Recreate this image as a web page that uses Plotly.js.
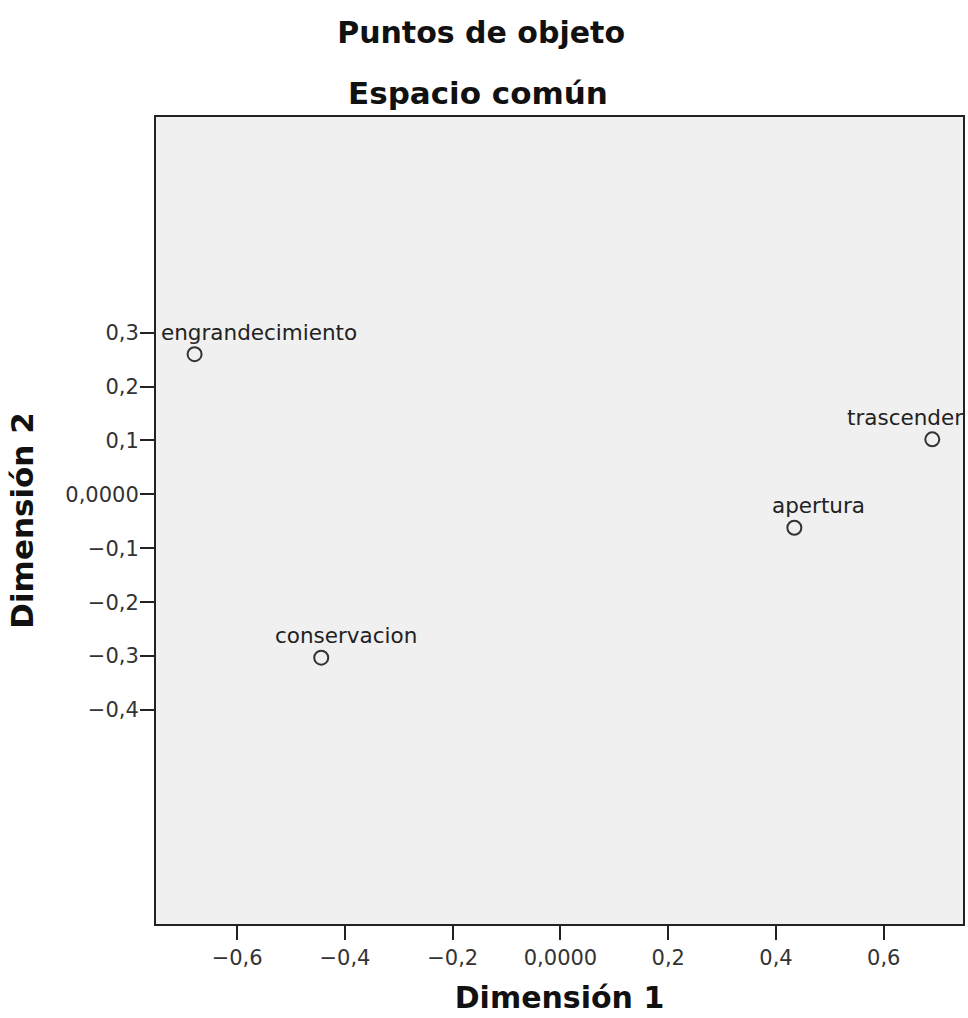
<!DOCTYPE html>
<html>
<head>
<meta charset="utf-8">
<script src="https://cdn.plot.ly/plotly-3.0.1.min.js"></script>
<style>html,body{margin:0;padding:0;background:#fff;}#chart{width:968px;height:1018px;}</style>
</head>
<body>
<div id="chart"></div>
<script>
// Data
const labels = ['engrandecimiento', 'trascender', 'apertura', 'conservacion'];
const dim1 = [-0.679, 0.690, 0.434, -0.444];
const dim2 = [0.260, 0.102, -0.062, -0.303];

const xTickVals = [-0.6, -0.4, -0.2, 0, 0.2, 0.4, 0.6];
const xTickText = ['\u22120,6', '\u22120,4', '\u22120,2', '0,0000', '0,2', '0,4', '0,6'];
const yTickVals = [0.3, 0.2, 0.1, 0, -0.1, -0.2, -0.3, -0.4];
const yTickText = ['0,3', '0,2', '0,1', '0,0000', '\u22120,1', '\u22120,2', '\u22120,3', '\u22120,4'];

// Label placement offsets (style)
const labelXShift = [64, -27, 24, 25];
const labelYShift = 22;

const font = 'DejaVu Sans, Verdana, sans-serif';

const trace = {
  type: 'scatter',
  mode: 'markers',
  x: dim1,
  y: dim2,
  text: labels,
  hoverinfo: 'text',
  marker: {
    symbol: 'circle-open',
    size: 14,
    color: '#333333',
    line: {width: 2, color: '#333333'}
  },
  showlegend: false
};

const annotations = labels.map((t, i) => ({
  x: dim1[i], y: dim2[i], xref: 'x', yref: 'y',
  text: t, showarrow: false,
  xanchor: 'center', yanchor: 'middle',
  xshift: labelXShift[i], yshift: labelYShift,
  font: {family: font, size: 21.5, color: '#222222'}
}));

annotations.push({
  text: 'Espacio común', xref: 'paper', yref: 'paper',
  x: 0.399, y: 1.0297, xanchor: 'center', yanchor: 'middle',
  showarrow: false,
  font: {family: font, size: 31, color: '#111111', weight: 'bold'}
});

const layout = {
  width: 968,
  height: 1018,
  margin: {l: 156, r: 5, t: 117, b: 94, pad: 0},
  paper_bgcolor: '#ffffff',
  plot_bgcolor: '#f0f0f0',
  title: {
    text: 'Puntos de objeto',
    x: 0.497, xref: 'container', xanchor: 'center',
    y: 0.9676, yref: 'container', yanchor: 'middle',
    font: {family: font, size: 30, color: '#111111', weight: 'bold'}
  },
  xaxis: {
    range: [-0.7506, 0.7470],
    tickvals: xTickVals,
    ticktext: xTickText,
    ticks: 'outside', ticklen: 14, tickwidth: 2, tickcolor: '#222222',
    showline: true, linecolor: '#222222', linewidth: 2, mirror: true,
    showgrid: false, zeroline: false,
    tickfont: {family: font, size: 21, color: '#333333'},
    title: {text: 'Dimensión 1', standoff: 18,
      font: {family: font, size: 30, color: '#111111', weight: 'bold'}}
  },
  yaxis: {
    range: [-0.797, 0.700],
    tickvals: yTickVals,
    ticktext: yTickText,
    ticks: 'outside', ticklen: 14, tickwidth: 2, tickcolor: '#222222',
    ticklabelstandoff: -3,
    showline: true, linecolor: '#222222', linewidth: 2, mirror: true,
    showgrid: false, zeroline: false,
    tickfont: {family: font, size: 21, color: '#333333'},
    title: {text: 'Dimensión 2', standoff: 22,
      font: {family: font, size: 31, color: '#111111', weight: 'bold'}}
  },
  annotations: annotations
};

Plotly.newPlot('chart', [trace], layout, {displayModeBar: false, staticPlot: true});
</script>
</body>
</html>
